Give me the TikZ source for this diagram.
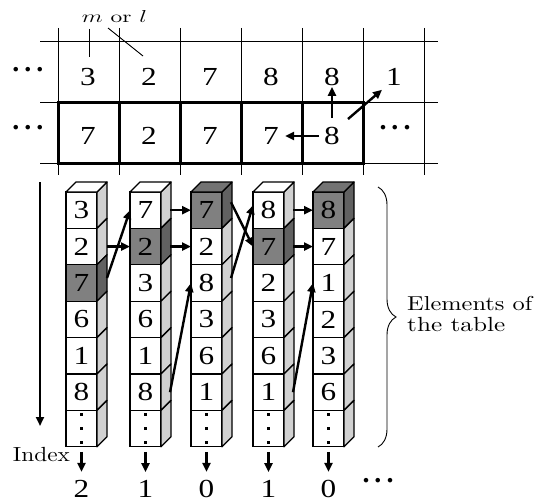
\documentclass[tikz,border=0pt]{standalone}
\usepackage{fontspec}
\usepackage{graphicx}
\usetikzlibrary{arrows.meta,decorations.pathreplacing,calc}
\newfontfamily\numf{Liberation Serif}
\newfontfamily\labf{lmroman10-regular.otf}
\newcommand\sx[1]{\scalebox{1.2}[1]{#1}}
\newcommand\hdts{{\numf\bfseries\fontsize{28}{28}\selectfont .\kern5pt.\kern5pt.}}
\definecolor{fdark}{gray}{0.5}
\definecolor{sdark}{gray}{0.38}
\definecolor{tdark}{gray}{0.45}
\definecolor{slight}{gray}{0.82}
\tikzset{
  num/.style={font=\numf\fontsize{26}{30}\selectfont, inner sep=0pt},
  lab/.style={font=\labf\fontsize{20}{24}\selectfont, inner sep=0pt},
  cellbox/.style={draw, line width=1.3pt, minimum width=31pt, minimum height=36.4pt,
    inner sep=0pt, outer sep=0pt, anchor=north west, num},
  cellline/.style={draw, line width=1.3pt, line join=round},
  arr/.style={line width=2.4pt, -{Triangle[length=9pt,width=8pt]}},
  gridline/.style={line width=0.9pt},
  boldline/.style={line width=3pt},
  dotsnode/.style={inner sep=0pt},
  sqdot/.style={fill=black}
}
\begin{document}
\begin{tikzpicture}[x=1pt,y=-1pt]
\path[use as bounding box] (0,0) rectangle (538,503);
% grid
\foreach \xx in {58,119,180,241,302,363,424} \draw[gridline] (\xx,28) -- (\xx,175);
\foreach \yy in {41,102,163} \draw[gridline] (40,\yy) -- (438,\yy);
\draw[boldline] (58,102) rectangle (363,163);
\foreach \xx in {119,180,241,302} \draw[boldline] (\xx,102) -- (\xx,163);
% label m or l
\node[lab, anchor=base] (ml) at (114.5,22.5) {\resizebox{65pt}{12pt}{$m$ or $l$}};
\coordinate (mla) at (89,29);
\coordinate (mlb) at (89,57);
\coordinate (mlc) at (108,28);
\coordinate (mld) at (143,56);
\draw[gridline] (mla) -- (mlb);
\draw[gridline] (mlc) -- (mld);
% top row
\foreach \vv/\xx [count=\ii] in {3/88,2/149,7/210,8/271,8/332,1/394}
  \node[num] (t\ii) at (\xx,77) {\sx{\vv}};
% bottom row
\foreach \vv/\xx [count=\ii] in {7/88,2/149,7/210,7/271,8/332}
  \node[num] (b\ii) at (\xx,136) {\sx{\vv}};
\node[dotsnode] (d1) at (28,70) {\hdts};
\node[dotsnode] (d2) at (28,128) {\hdts};
\node[dotsnode] (d3) at (395,128) {\hdts};
\node[dotsnode] (d4) at (378,481) {\hdts};
% arrows in table
\draw[arr] ([yshift=9pt]b5.north) -- ([yshift=-1pt]t5.south);
\draw[arr] ([xshift=-5pt]b5.west) -- ([xshift=6pt]b4.east);
\draw[arr] ([shift={(8pt,8pt)}]b5.north east) -- ([shift={(-4pt,-4pt)}]t6.south west);
% columns
\foreach \cc/\LL/\dd/\vals in {1/66/2/{3,2,7,6,1,8},2/130/1/{7,2,3,6,1,8},3/191/0/{7,2,8,3,6,1},4/253/1/{8,7,2,3,6,1},5/313/0/{8,7,1,2,3,6}} {
  \foreach \vv [count=\rr from 0] in \vals {
    \ifnum\rr=\dd \def\ff{fdark}\def\sf{sdark}\def\tf{tdark}\else\def\ff{white}\def\sf{slight}\def\tf{white}\fi
    \node[cellbox, fill=\ff] (c\cc r\rr) at (\LL,{192+36.4*\rr}) {\sx{\vv}};
    \draw[cellline, fill=\sf] (c\cc r\rr.north east) -- ++(10,-10) -- ++(0,36.4) -- (c\cc r\rr.south east) -- cycle;
    \ifnum\rr=0
      \draw[cellline, fill=\tf] (c\cc r\rr.north west) -- ++(10,-10) -- ++(31,0) -- (c\cc r\rr.north east) -- cycle;
    \fi
  }
  \node[cellbox, fill=white] (c\cc r6) at (\LL,{192+36.4*6}) {};
  \foreach \dy in {-14,0,14}
    \fill[sqdot] ($(c\cc r6.center)+(-1.8,\dy-1.8)$) rectangle ++(3.6,3.6);
  \draw[cellline, fill=slight] (c\cc r6.north east) -- ++(10,-10) -- ++(0,36.4) -- (c\cc r6.south east) -- cycle;
}
% connectors between columns
\draw[arr] ([xshift=10pt]c1r1.east) -- (c2r1.west);
\draw[arr] ([shift={(10pt,5pt)}]c1r2.east) -- (c2r0.west);
\draw[arr] ([xshift=9pt]c2r0.east) -- (c3r0.west);
\draw[arr] ([xshift=9pt]c2r1.east) -- (c3r1.west);
\draw[arr] ([xshift=9pt]c2r5.east) -- (c3r2.west);
\draw[arr] ([shift={(9pt,8pt)}]c3r0.east) -- (c4r1.west);
\draw[arr] ([shift={(9pt,5pt)}]c3r2.east) -- ([yshift=5pt]c4r0.west);
\draw[arr] ([xshift=9pt]c4r0.east) -- (c5r0.west);
\draw[arr] ([xshift=9pt]c4r1.east) -- (c5r1.west);
\draw[arr] ([xshift=9pt]c4r5.east) -- (c5r2.west);
% index arrow
\coordinate (la1) at (40,182);
\coordinate (la2) at (40,426);
\draw[arr] (la1) -- (la2);
\node[lab, anchor=base] (idx) at (41.5,461) {\resizebox{57pt}{14.2pt}{Index}};
\foreach \vv [count=\ii] in {2,1,0,1,0} {
  \node[num] (i\ii) at ($(c\ii r6.south)+(0,42)$) {\sx{\vv}};
}
\foreach \ii in {1,...,5} \draw[arr] ([yshift=-5pt]c\ii r6.south) -- ([yshift=8pt]i\ii.north);
% brace
\coordinate (br1) at (378,187);
\coordinate (br2) at (378,447);
\draw[decorate, decoration={brace, amplitude=18pt}, line width=0.9pt] (br1) -- (br2);
\node[lab, anchor=base west] (elem1) at (407,310) {\resizebox{125pt}{14.2pt}{Elements of}};
\node[lab, anchor=base west] (elem2) at (407,331) {\resizebox{98pt}{14.2pt}{the table}};
\end{tikzpicture}
\end{document}
